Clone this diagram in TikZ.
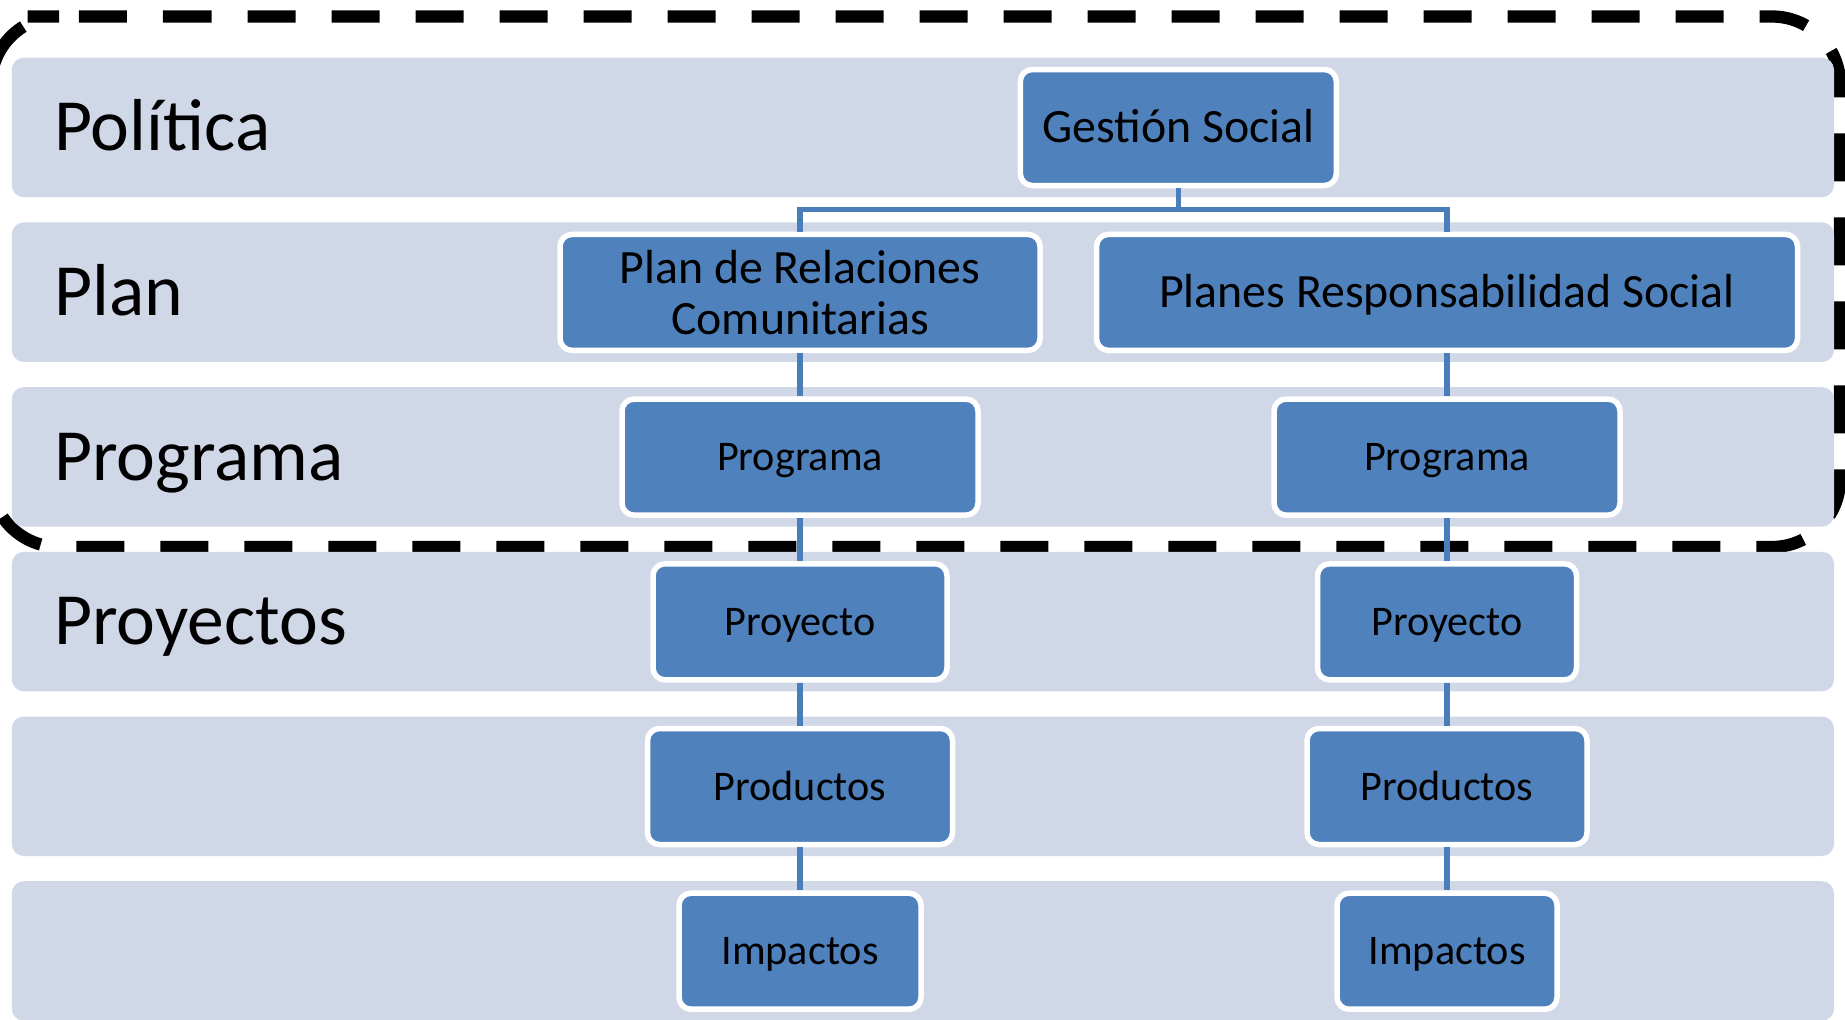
\documentclass[tikz,border=0pt]{standalone}
\usepackage{fontspec}
\setmainfont{Carlito}
\usepackage{xcolor}
\usetikzlibrary{calc}
\definecolor{bandfill}{HTML}{D0D8E8}
\definecolor{nodefill}{HTML}{4F81BD}
\definecolor{linkblue}{HTML}{4A7EBB}
\tikzstyle{band} = [fill=bandfill, rounded corners=6pt]
\tikzstyle{frame} = [line width=6.15pt, dash pattern=on 24pt off 18pt, rounded corners=34pt]
\tikzstyle{level} = [anchor=base west, inner sep=0pt, font=\fontsize{36.8}{40}\selectfont]
\tikzstyle{box} = [rectangle, draw=white, line width=2.75pt, fill=nodefill, rounded corners=6pt, minimum height=58pt, text centered, inner sep=0pt]
\tikzstyle{bigbox} = [box, font=\fontsize{23.9}{25.6}\selectfont, text height=21.3pt, text depth=6pt]
\tikzstyle{smallbox} = [box, font=\fontsize{21.1}{23}\selectfont, text height=18.8pt, text depth=5.3pt]
\tikzstyle{link} = [draw=linkblue, line width=2.6pt]

\begin{document}
\begin{tikzpicture}[x=0.5pt,y=-0.5pt]
				\useasboundingbox (0,0) rectangle (1845,1019);
				% dashed frame
				\draw[frame] (95.7,16.5) -- (1840,16.5) -- (1840,547) -- (-9,547) -- (-9,16.5) -- cycle;
				% bands
				\foreach \k in {0,...,5}{
					\fill[band] (11.8,{57.7+164.7*\k}) rectangle (1834,{197.2+164.7*\k});
				}
				% level labels
				\node[level] (lpolitica) at (54,150.6) {Política};
				\node[level] (lplan) at (54,315.3) {Plan};
				\node[level] (lprograma) at (54,480.0) {Programa};
				\node[level] (lproyectos) at (54,644.7) {Proyectos};
				% boxes
				\node[bigbox, minimum width=158pt] (gestion) at (1178.3,127.5) {Gestión Social};
				\node[bigbox, minimum width=240pt, align=center, text height=, text depth=] (prc) at (800,292.4) {Plan de Relaciones\\Comunitarias};
				\node[bigbox, minimum width=350.5pt] (prs) at (1447,292.4) {Planes Responsabilidad Social};
				\node[smallbox, minimum width=178pt] (progL) at (800,457.1) {Programa};
				\node[smallbox, minimum width=173pt] (progR) at (1447,457.1) {Programa};
				\node[smallbox, minimum width=147pt] (proyL) at (800,621.8) {Proyecto};
				\node[smallbox, minimum width=129.5pt] (proyR) at (1447,621.8) {Proyecto};
				\node[smallbox, minimum width=152.5pt] (prodL) at (800,786.5) {Productos};
				\node[smallbox, minimum width=140pt] (prodR) at (1447,786.5) {Productos};
				\node[smallbox, minimum width=121pt] (impL) at (800,951.2) {Impactos};
				\node[smallbox, minimum width=110pt] (impR) at (1447,951.2) {Impactos};
				% connectors
				\coordinate (fork) at (1178.3,209.5);
				\draw[link] (gestion.south) -- (fork);
				\draw[link] (fork) -| (prc.north);
				\draw[link] (fork) -| (prs.north);
				\foreach \a/\b in {prc/progL, progL/proyL, proyL/prodL, prodL/impL, prs/progR, progR/proyR, proyR/prodR, prodR/impR}
					\draw[link] (\a.south) -- (\b.north);
			\end{tikzpicture}
\end{document}
